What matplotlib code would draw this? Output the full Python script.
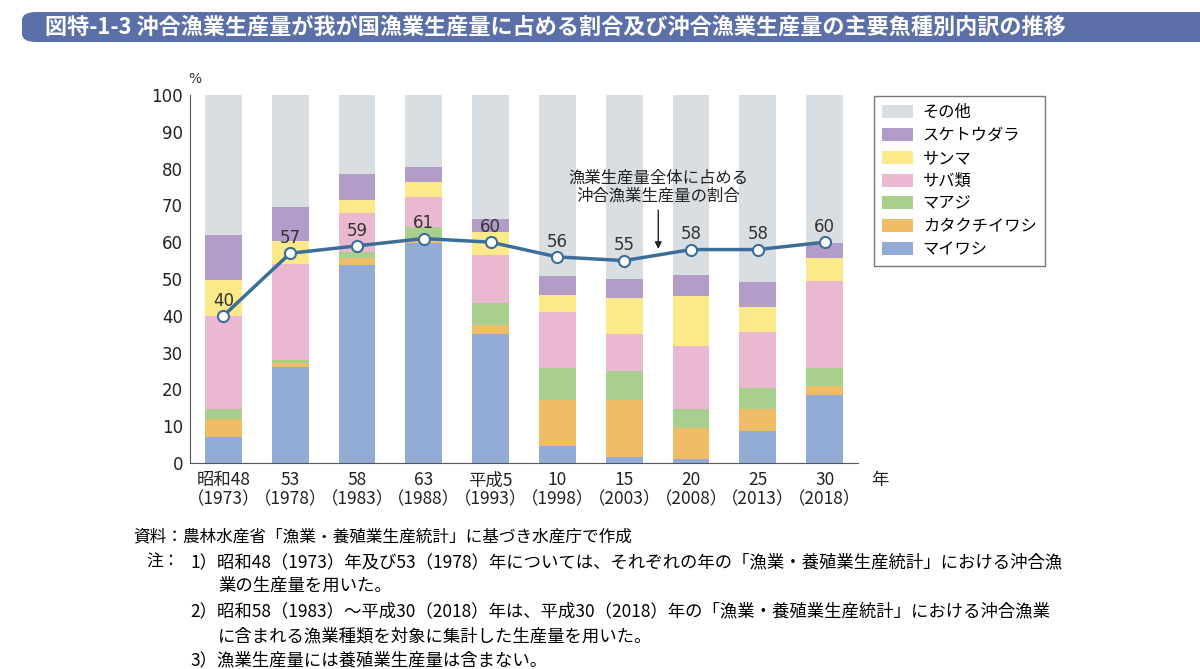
import matplotlib
matplotlib.use("Agg")
import matplotlib.pyplot as plt
from matplotlib.patches import FancyBboxPatch, Patch
import numpy as np

plt.rcParams['font.family'] = ['Noto Sans CJK JP', 'DejaVu Sans']

categories = ["昭和48\n（1973）", "53\n（1978）", "58\n（1983）", "63\n（1988）", "平成5\n（1993）",
              "10\n（1998）", "15\n（2003）", "20\n（2008）", "25\n（2013）", "30\n（2018）"]
# segment sizes
maiwashi      = [7.0, 26.0, 53.8, 59.7, 35.1, 4.5, 1.7, 1.0, 8.6, 18.4]
katakuchi     = [5.0, 1.1, 1.9, 0.5, 2.3, 12.7, 15.5, 8.5, 6.1, 2.6]
maaji         = [2.6, 1.0, 1.7, 3.8, 6.0, 8.7, 7.7, 5.2, 5.7, 4.7]
saba          = [25.4, 25.9, 10.5, 8.2, 13.2, 15.2, 10.2, 17.2, 15.2, 23.7]
sanma         = [9.8, 6.2, 3.6, 4.2, 6.1, 4.6, 9.8, 13.6, 6.8, 6.3]
suketoudara   = [12.1, 9.4, 7.1, 4.0, 3.5, 5.0, 5.2, 5.7, 6.9, 4.2]
share_offshore = [40, 57, 59, 61, 60, 56, 55, 58, 58, 60]

series_names = ["マイワシ", "カタクチイワシ", "マアジ", "サバ類", "サンマ", "スケトウダラ"]
series_vals = [maiwashi, katakuchi, maaji, saba, sanma, suketoudara]
colors = ["#93acd6", "#efbd67", "#a8cf8e", "#ebb8d2", "#fbe98a", "#b49cc8"]
other_color = "#d9dee3"

fig = plt.figure(figsize=(12, 6.69), dpi=100)

# title banner
banner = FancyBboxPatch((22/1200, 1-42/669), 1.2, 30/669, boxstyle="round,pad=0,rounding_size=0.012",
                        transform=fig.transFigure, facecolor="#5b6fa9", edgecolor="none")
fig.patches.append(banner)
fig.text(45/1200, 1-27/669, "図特-1-3 沖合漁業生産量が我が国漁業生産量に占める割合及び沖合漁業生産量の主要魚種別内訳の推移",
         color="white", fontsize=15.9, fontweight="bold", va="center", ha="left")

ax = fig.add_axes([190/1200, 1-463/669, (858-190)/1200, (463-95)/669])
x = np.arange(len(categories))
w = 0.55
ax.bar(x, [100]*len(x), width=w, color=other_color, zorder=1)
bottom = np.zeros(len(x))
for name, vals, c in zip(series_names, series_vals, colors):
    ax.bar(x, vals, width=w, bottom=bottom, color=c, zorder=2)
    bottom += np.array(vals)

ax.plot(x, share_offshore, color="#3d6e99", lw=2.5, zorder=3,
        marker="o", markersize=8, markerfacecolor="white", markeredgecolor="#3d6e99", markeredgewidth=1.5)
for xi, v in zip(x, share_offshore):
    ax.text(xi, v + 1.7, str(v), ha="center", va="bottom", fontsize=12, color="#333333", zorder=4,
            family=['DejaVu Sans'])

ax.set_xlim(-0.5, 9.5)
ax.set_ylim(0, 100)
ax.set_yticks(range(0, 101, 10))
ax.set_yticklabels([str(t) for t in range(0, 101, 10)], fontsize=12, family=['DejaVu Sans'], color="#222222")
ax.set_xticks(x)
ax.set_xticklabels(categories, fontsize=12.5, color="#222222", linespacing=1.05)
ax.tick_params(axis='x', length=0, pad=6)
ax.tick_params(axis='y', length=0, pad=5)
for s in ["top", "right"]:
    ax.spines[s].set_visible(False)
ax.spines["left"].set_color("#555555")
ax.spines["bottom"].set_color("#555555")
ax.text(-0.52, 102.5, "%", ha="left", va="bottom", fontsize=10, color="#333333", family=['DejaVu Sans'])
ax.text(9.82, -4.6, "年", ha="center", va="center", fontsize=12.5, color="#222222")

ax.annotate("", xy=(6.51, 57.4), xytext=(6.51, 69.5),
            arrowprops=dict(arrowstyle="-|>", color="#222222", lw=1, mutation_scale=10), zorder=5)
ax.text(6.51, 70.3, "漁業生産量全体に占める\n沖合漁業生産量の割合", ha="center", va="bottom",
        fontsize=11.8, color="#222222", linespacing=1.05, zorder=5)

# legend
handles = [Patch(facecolor=other_color, label="その他")]
for name, c in reversed(list(zip(series_names, colors))):
    handles.append(Patch(facecolor=c, label=name))
leg = fig.legend(handles=handles, loc="upper left", bbox_to_anchor=(874/1200, 1-96/669),
                 borderaxespad=0, frameon=True, fontsize=11.7, handlelength=1.9, handleheight=0.86,
                 labelspacing=0.36, borderpad=0.5, handletextpad=0.6, fancybox=False)
leg.get_frame().set_edgecolor("#555555")
leg.get_frame().set_linewidth(1)

# notes
fig.text(133/1200, 1-537/669, "資料：農林水産省「漁業・養殖業生産統計」に基づき水産庁で作成", fontsize=12, va="center")
fs = 12.5
fig.text(146/1200, 1-562/669, "注：", fontsize=12, va="center")
fig.text(190/1200, 1-562/669, "1）昭和48（1973）年及び53（1978）年については、それぞれの年の「漁業・養殖業生産統計」における沖合漁", fontsize=fs, va="center")
fig.text(218/1200, 1-586/669, "業の生産量を用いた。", fontsize=fs, va="center")
fig.text(190/1200, 1-611/669, "2）昭和58（1983）〜平成30（2018）年は、平成30（2018）年の「漁業・養殖業生産統計」における沖合漁業", fontsize=fs, va="center")
fig.text(218/1200, 1-636/669, "に含まれる漁業種類を対象に集計した生産量を用いた。", fontsize=fs, va="center")
fig.text(190/1200, 1-660/669, "3）漁業生産量には養殖業生産量は含まない。", fontsize=fs, va="center")

fig.savefig("out.png", dpi=100)
